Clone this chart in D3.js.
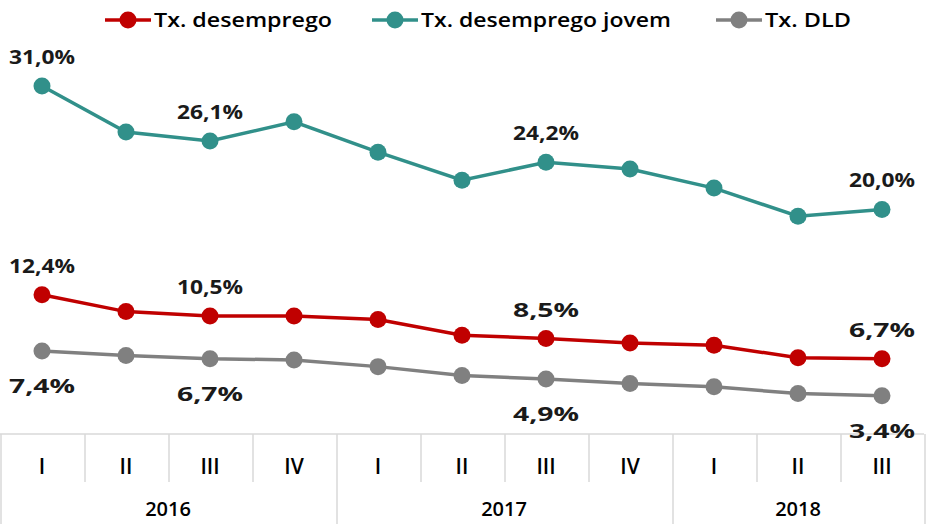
<!DOCTYPE html>
<html>
<head>
<meta charset="utf-8">
<script src="https://cdn.jsdelivr.net/npm/d3@7"></script>
<style>
	body { margin: 0; background: #fff; }
	svg { display: block; font-family: 'Open Sans', sans-serif; }
</style>
</head>
<body>
<svg id="chart" width="933" height="524"></svg>
<script>
	// quarters and years (bottom table)
	var quarters = ['I', 'II', 'III', 'IV', 'I', 'II', 'III', 'IV', 'I', 'II', 'III'];
	var years = [
		{label: '2016', from: 0, to: 3},
		{label: '2017', from: 4, to: 7},
		{label: '2018', from: 8, to: 10}
	];

	// values in %
	var txDesemprego = [12.4, 10.9, 10.5, 10.5, 10.2, 8.8, 8.5, 8.1, 7.9, 6.8, 6.7];
	var txJovem = [31.0, 26.9, 26.1, 27.8, 25.1, 22.6, 24.2, 23.6, 21.9, 19.4, 20.0];
	var txDLD = [7.4, 7.0, 6.7, 6.6, 6.0, 5.2, 4.9, 4.5, 4.2, 3.6, 3.4];

	// points that carry a value label
	var labelIdx = [0, 2, 6, 10];

	var series = [
		{name: 'Tx. desemprego', values: txDesemprego, color: '#c00000', labelDy: -22, legendX: 105, textW: 178},
		{name: 'Tx. desemprego jovem', values: txJovem, color: '#31908a', labelDy: -22, legendX: 372, textW: 250},
		{name: 'Tx. DLD', values: txDLD, color: '#808080', labelDy: 42, legendX: 716, textW: 86}
	];

	var svg = d3.select('#chart');

	var x = d3.scaleBand()
		.domain(d3.range(quarters.length))
		.range([0, 924]);
	var bw = x.bandwidth();

	var y = d3.scaleLinear()
		.domain([0, 35])
		.range([434, 41]);

	// Table under the chart
	var grid = svg.append('g').attr('stroke', '#d9d9d9').attr('stroke-width', 1.5);
	grid.append('line')
		.attr('x1', x(0)).attr('x2', x(quarters.length - 1) + bw)
		.attr('y1', y(0)).attr('y2', y(0));

	var yearEdges = [0];
	years.forEach(function(yr) { yearEdges.push(yr.to + 1); });

	d3.range(quarters.length + 1).forEach(function(i) {
		var px = i < quarters.length ? x(i) : x(i - 1) + bw;
		var full = yearEdges.indexOf(i) >= 0;
		grid.append('line')
			.attr('x1', px + 1).attr('x2', px + 1)
			.attr('y1', y(0)).attr('y2', full ? 524 : 482);
	});

	svg.append('g').selectAll('text')
		.data(quarters)
		.enter().append('text')
			.attr('x', function(d, i) { return x(i) + bw / 2; })
			.attr('y', 474)
			.attr('text-anchor', 'middle')
			.attr('font-size', 21)
			.attr('font-weight', 600)
			.attr('fill', '#000')
			.text(function(d) { return d; });

	svg.append('g').selectAll('text')
		.data(years)
		.enter().append('text')
			.attr('x', function(d) { return (x(d.from) + x(d.to) + bw) / 2; })
			.attr('y', 516)
			.attr('text-anchor', 'middle')
			.attr('font-size', 20)
			.attr('font-weight', 600)
			.attr('fill', '#000')
			.text(function(d) { return d.label; });

	// Lines
	var line = d3.line()
		.x(function(d, i) { return x(i) + bw / 2; })
		.y(function(d) { return y(d); });

	series.forEach(function(s) {
		var g = svg.append('g');
		g.append('path')
			.datum(s.values)
			.attr('fill', 'none')
			.attr('stroke', s.color)
			.attr('stroke-width', 3.5)
			.attr('d', line);

		g.selectAll('circle')
			.data(s.values)
			.enter().append('circle')
				.attr('cx', function(d, i) { return x(i) + bw / 2; })
				.attr('cy', function(d) { return y(d); })
				.attr('r', 8.5)
				.attr('fill', s.color);

		g.selectAll('text')
			.data(labelIdx)
			.enter().append('text')
				.attr('x', function(i) { return x(i) + bw / 2; })
				.attr('y', function(i) { return y(s.values[i]) + s.labelDy; })
				.attr('text-anchor', 'middle')
				.attr('font-size', 20)
				.attr('font-weight', 700)
				.attr('fill', '#1a1a1a')
				.attr('textLength', 66)
				.attr('lengthAdjust', 'spacingAndGlyphs')
				.text(function(i) { return s.values[i].toFixed(1).replace('.', ',') + '%'; });

		// Legend
		var lg = svg.append('g').attr('transform', 'translate(' + s.legendX + ',20)');
		lg.append('line')
			.attr('x1', 0).attr('x2', 46)
			.attr('stroke', s.color)
			.attr('stroke-width', 3.5);
		lg.append('circle')
			.attr('cx', 23).attr('r', 8.5)
			.attr('fill', s.color);
		lg.append('text')
			.attr('x', 49)
			.attr('y', 7)
			.attr('font-size', 20)
			.attr('font-weight', 600)
			.attr('fill', '#000')
			.attr('textLength', s.textW)
			.attr('lengthAdjust', 'spacingAndGlyphs')
			.text(s.name);
	});
</script>
</body>
</html>
